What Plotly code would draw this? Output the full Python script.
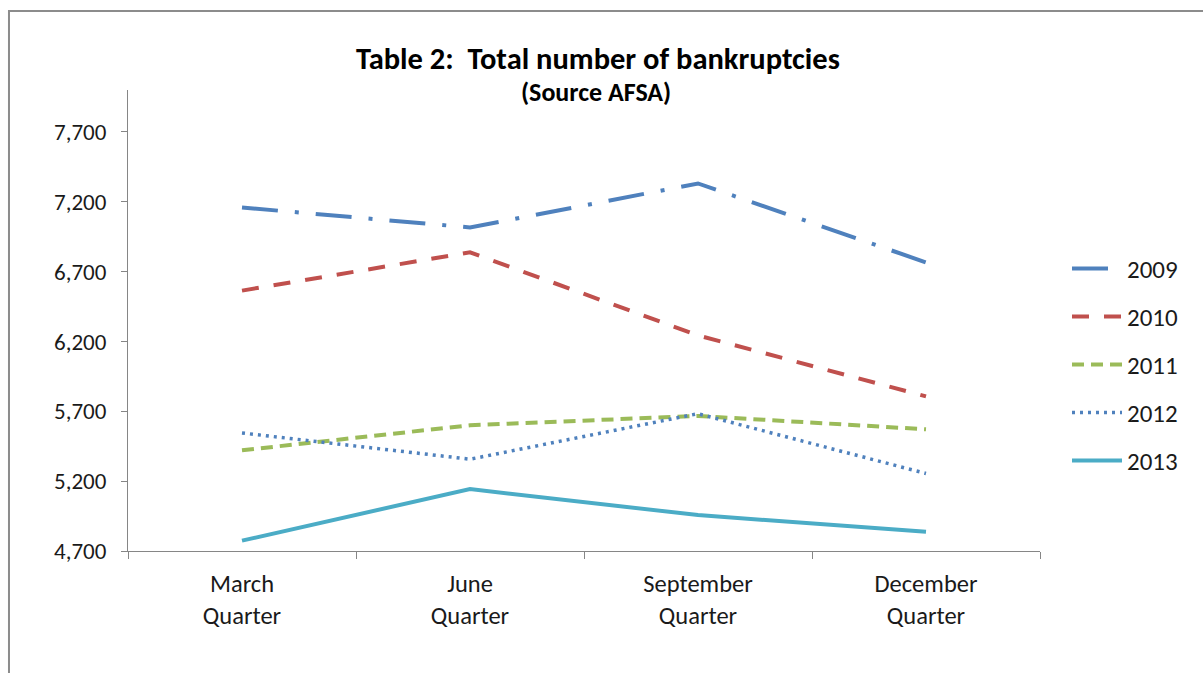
import plotly.graph_objects as go

quarters = ["March<br>Quarter", "June<br>Quarter", "September<br>Quarter", "December<br>Quarter"]
years = ["2009", "2010", "2011", "2012", "2013"]
v2009 = [7159, 7016, 7331, 6766]
v2010 = [6564, 6838, 6243, 5807]
v2011 = [5421, 5600, 5667, 5571]
v2012 = [5545, 5357, 5683, 5255]
v2013 = [4774, 5143, 4957, 4838]
y_ticks = [4700, 5200, 5700, 6200, 6700, 7200, 7700]

series = [v2009, v2010, v2011, v2012, v2013]
colors = ["#4F81BD", "#C0504D", "#9BBB59", "#4F81BD", "#4BACC6"]
dashes = ["36px,17px,4px,17px", "17px,15px", "12px,7px", "3px,5px", "solid"]
widths = [4, 4, 4, 3.5, 4]

FONT = "Carlito, Calibri, Liberation Sans Narrow, Open Sans, sans-serif"

fig = go.Figure()
for name, vals, c, d, w in zip(years, series, colors, dashes, widths):
    fig.add_trace(go.Scatter(
        x=quarters, y=vals, name=name, mode="lines", legendgroup=name,
        line=dict(color=c, width=w, dash=d),
    ))

fig.update_layout(
    width=1203, height=673,
    paper_bgcolor="white", plot_bgcolor="white",
    margin=dict(l=128, r=163, t=90, b=122),
    font=dict(family=FONT, size=24, color="#1a1a1a"),
    title=dict(text="<b>Table 2:  Total number of bankruptcies</b>",
               x=0.497, xanchor="center", y=0.914, yanchor="middle",
               font=dict(family=FONT, size=30.5, color="black")),
    annotations=[dict(text="<b>(Source AFSA)</b>", xref="paper", yref="paper",
                      x=0.5137, y=0.996, xanchor="center", yanchor="middle",
                      showarrow=False, font=dict(family=FONT, size=26, color="black"))],
    showlegend=True,
    legend=dict(x=(1067 - 128) / 912, xanchor="left", y=0.404, yanchor="middle",
                itemwidth=50, tracegroupgap=12.5,
                font=dict(family=FONT, size=25, color="#1a1a1a"),
                traceorder="grouped"),
    shapes=[dict(type="rect", xref="paper", yref="paper",
                 x0=-0.1305, x1=1.5, y0=-0.5, y1=1.1714,
                 line=dict(color="#8c8c8c", width=2), fillcolor="rgba(0,0,0,0)", layer="below")],
)

fig.update_xaxes(
    type="category", range=[-0.5, 3.5], tickson="boundaries",
    showline=True, linecolor="#868686", linewidth=1,
    ticks="outside", ticklen=7, tickcolor="#868686",
    showgrid=False, zeroline=False, ticklabelstandoff=11,
    tickfont=dict(family=FONT, size=24.5, color="#1a1a1a"),
)
fig.update_yaxes(
    range=[4700, 8000], tickmode="array", tickvals=y_ticks,
    tickformat=",d", showline=True, linecolor="#868686", linewidth=1,
    ticks="outside", ticklen=6, tickcolor="#868686",
    showgrid=False, zeroline=False, ticklabelstandoff=10,
    tickfont=dict(family=FONT, size=23, color="#1a1a1a"),
)

fig.write_html("out.html")
